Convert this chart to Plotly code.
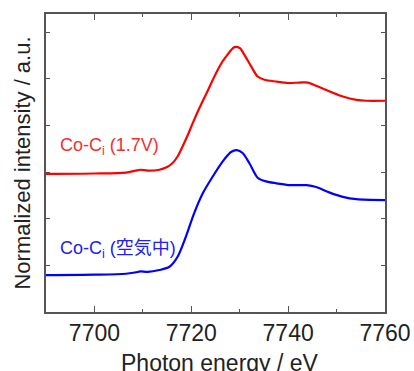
import plotly.graph_objects as go

energy_red = [7690, 7700, 7706.5, 7708.5, 7709.5, 7711, 7713.4, 7715, 7716.1, 7717.2,
              7718.2, 7719.3, 7720.3, 7721.8, 7723.2, 7724.5, 7725.8, 7727.2, 7728.9, 7730.0,
              7731.0, 7732.4, 7733.7, 7735.1, 7737.6, 7740.0, 7742.4, 7744.1, 7745.8, 7748.6,
              7751.3, 7754.1, 7756.2, 7760]
intensity_red = [2.96, 2.97, 2.99, 3.03, 3.05, 3.03, 3.05, 3.11, 3.19, 3.34,
                 3.55, 3.80, 4.05, 4.40, 4.70, 4.99, 5.26, 5.48, 5.68, 5.66,
                 5.51, 5.26, 5.05, 4.98, 4.94, 4.91, 4.92, 4.92, 4.85, 4.73,
                 4.62, 4.55, 4.53, 4.53]

energy_blue = [7690, 7700, 7706.5, 7708.5, 7709.5, 7711, 7713.4, 7715.5, 7717.2, 7718.9,
               7720.6, 7722.4, 7724.4, 7726.5, 7728.2, 7729.4, 7730.6, 7732.0, 7733.7, 7735.4,
               7737.6, 7740.4, 7743.8, 7745.8, 7748.6, 7751.3, 7754.1, 7760]
intensity_blue = [0.79, 0.80, 0.82, 0.85, 0.87, 0.86, 0.90, 0.97, 1.19, 1.62,
                  2.12, 2.55, 2.90, 3.23, 3.43, 3.47, 3.41, 3.19, 2.88, 2.80,
                  2.76, 2.72, 2.72, 2.68, 2.56, 2.47, 2.42, 2.40]

label_red = "Co-C<sub>i</sub> (1.7V)"
label_blue = "Co-C<sub>i</sub> (空気中)"
x_title = "Photon energy / eV"
y_title = "Normalized intensity / a.u."
x_tickvals = [7700, 7720, 7740, 7760]

fig = go.Figure()
fig.add_trace(go.Scatter(x=energy_red, y=intensity_red, mode="lines",
                         line=dict(color="#ff0000", width=2.2, shape="spline", smoothing=0.8),
                         showlegend=False))
fig.add_trace(go.Scatter(x=energy_blue, y=intensity_blue, mode="lines",
                         line=dict(color="#0000ff", width=2.2, shape="spline", smoothing=0.8),
                         showlegend=False))

fig.add_annotation(x=7692.4, y=3.54, xref="x", yref="y", text=label_red, showarrow=False,
                   xanchor="left", yanchor="middle",
                   font=dict(family="Liberation Sans, Arial", size=18, color="#f03030"))
fig.add_annotation(x=7692.4, y=1.35, xref="x", yref="y", text=label_blue, showarrow=False,
                   xanchor="left", yanchor="middle",
                   font=dict(family="Liberation Sans, Arial, Noto Sans CJK JP", size=18, color="#2020f0"))
fig.add_annotation(x=0.513, y=-0.172, xref="paper", yref="paper", text=x_title, showarrow=False,
                   xanchor="center", yanchor="middle",
                   font=dict(family="Liberation Sans, Arial", size=23, color="#222222"))

axis_common = dict(showline=True, linecolor="#555555", linewidth=1.5, mirror="ticks",
                   ticks="inside", tickcolor="#555555", showgrid=False, zeroline=False,
                   automargin=False)

fig.update_xaxes(range=[7690, 7760], tickvals=x_tickvals, ticklen=6, tickwidth=1.2,
                 minor=dict(dtick=10, tick0=7690, ticks="inside", ticklen=3, tickcolor="#555555"),
                 tickfont=dict(family="Liberation Sans, Arial", size=23, color="#222222"),
                 **axis_common)
fig.update_yaxes(range=[0, 6.39], dtick=1, tick0=0, ticklen=4, tickwidth=1.2, showticklabels=False,
                 title=dict(text=y_title, standoff=8,
                            font=dict(family="Liberation Sans, Arial", size=22, color="#222222")),
                 **axis_common)

fig.update_layout(width=414, height=371, margin=dict(l=46, r=29, t=14, b=59),
                  plot_bgcolor="white", paper_bgcolor="white")

fig.write_html("out.html", config={"displayModeBar": False},
               post_script="document.body.style.margin='0';")
